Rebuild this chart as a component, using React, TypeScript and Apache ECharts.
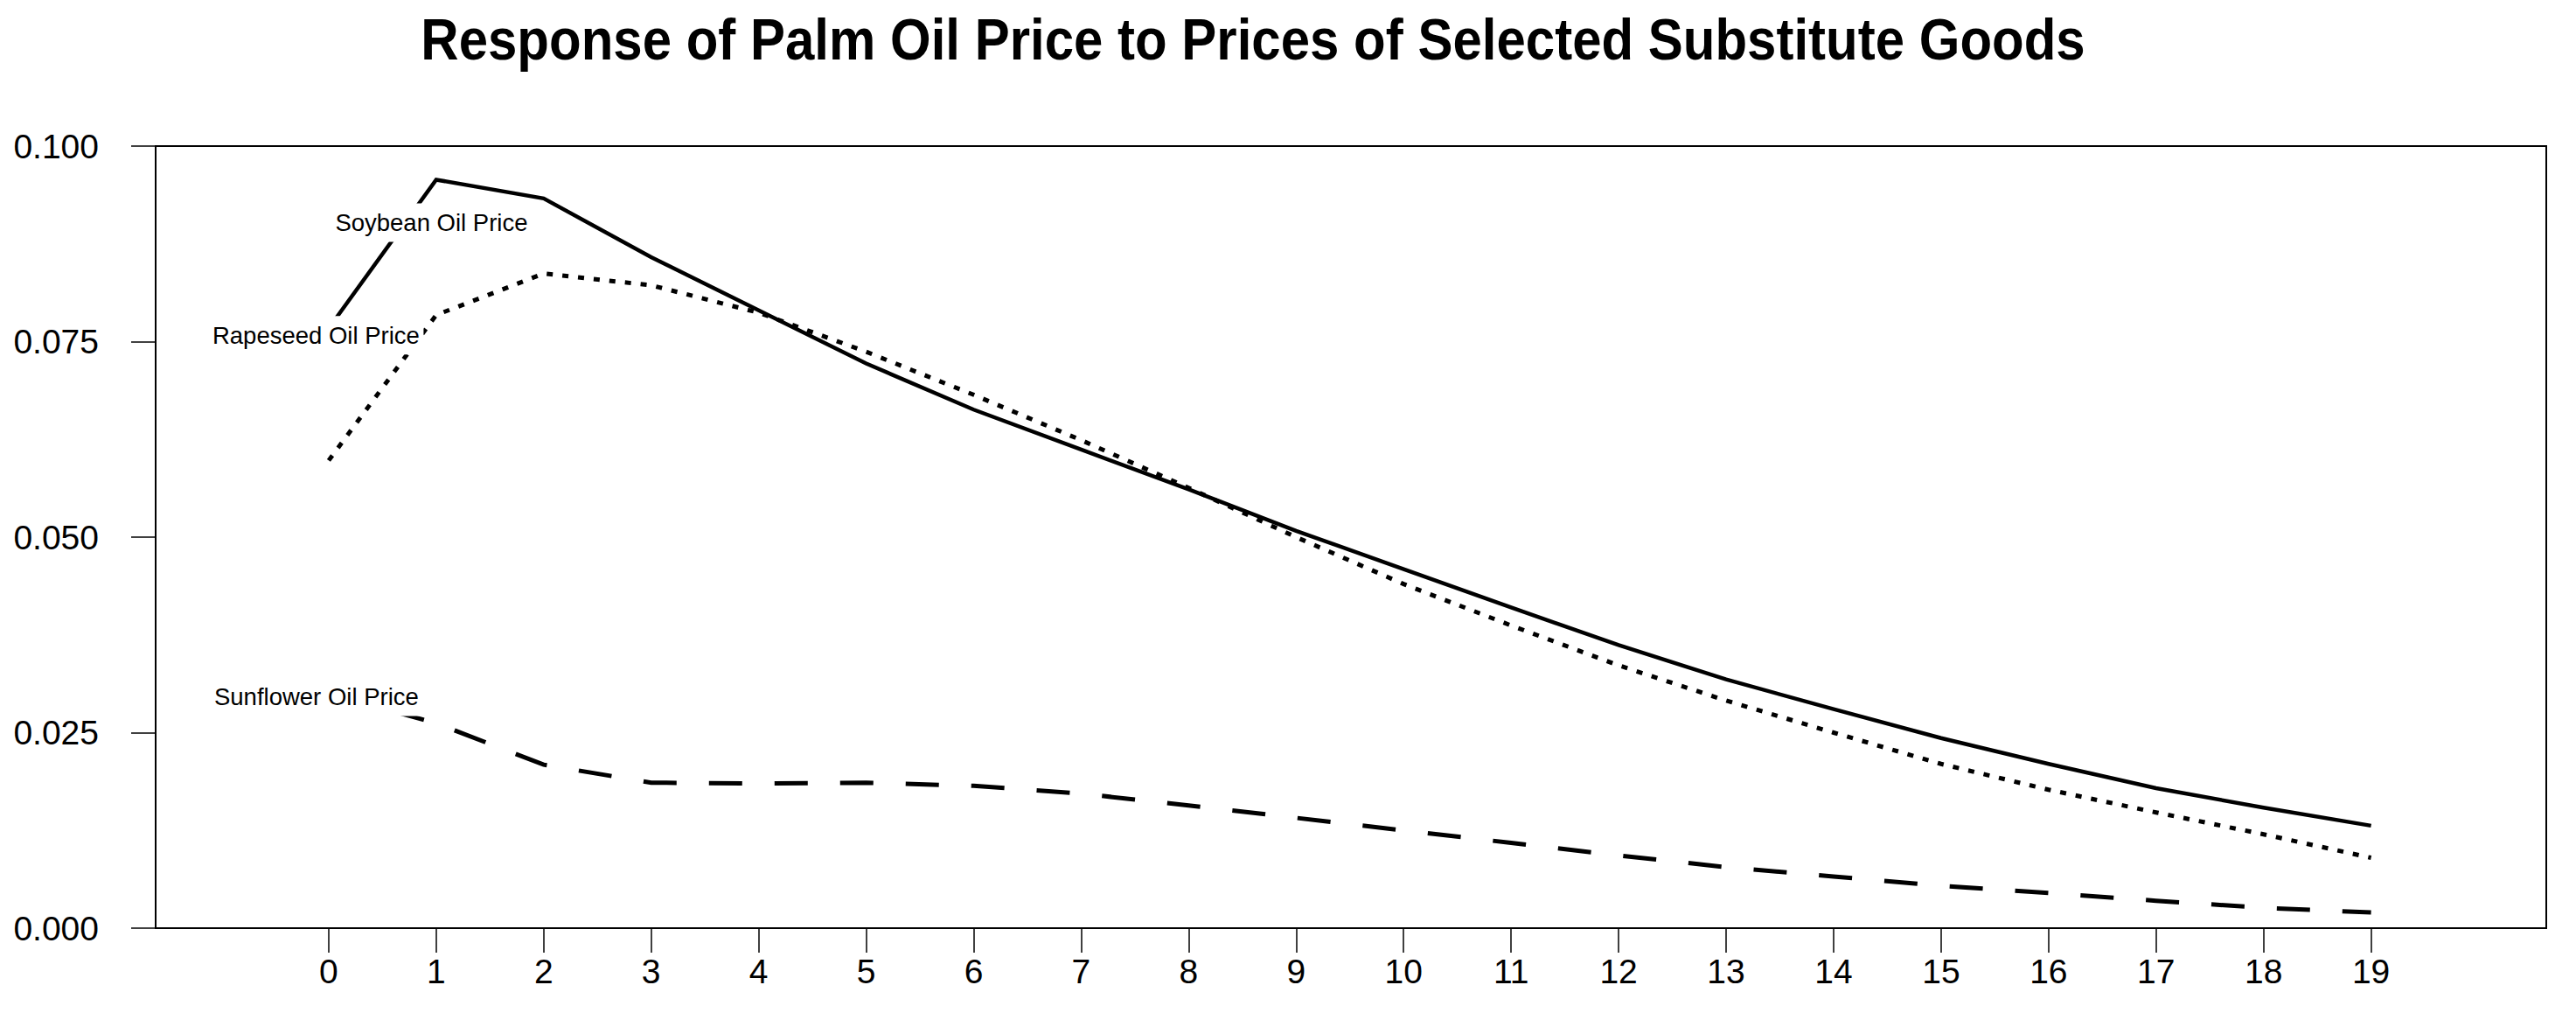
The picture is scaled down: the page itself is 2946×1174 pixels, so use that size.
import React, { useEffect, useRef } from "react";
import * as echarts from "echarts";

const titleText = "Response of Palm Oil Price to Prices of Selected Substitute Goods";
const periods = [0, 1, 2, 3, 4, 5, 6, 7, 8, 9, 10, 11, 12, 13, 14, 15, 16, 17, 18, 19];
const yTicks = [0, 0.025, 0.05, 0.075, 0.1];

const soybean = [0.0767, 0.0957, 0.0933, 0.0858, 0.0790, 0.0722, 0.0663, 0.0612, 0.0561, 0.0508, 0.0459, 0.0410, 0.0362, 0.0318, 0.0280, 0.0243, 0.0210, 0.0179, 0.0154, 0.0131];
const rapeseed = [0.0598, 0.0784, 0.0837, 0.0822, 0.0787, 0.0737, 0.0682, 0.0624, 0.0563, 0.0500, 0.0440, 0.0387, 0.0336, 0.0291, 0.0250, 0.0210, 0.0177, 0.0148, 0.0120, 0.0090];
const sunflower = [0.0300, 0.0262, 0.0209, 0.0186, 0.0185, 0.0186, 0.0182, 0.0172, 0.0157, 0.0141, 0.0125, 0.0109, 0.0093, 0.0078, 0.0066, 0.0054, 0.0045, 0.0035, 0.0026, 0.0020];

const seriesNames = ["Soybean Oil Price", "Rapeseed Oil Price", "Sunflower Oil Price"];
// label anchor points in data coordinates [period, value]
const labelAnchors: [number, number][] = [
  [0.956, 0.0902],
  [-0.118, 0.0758],
  [-0.114, 0.0296],
];
const labelBoxWidths = [230, 246, 243];

const FONT = "'Liberation Sans', Arial, sans-serif";

export default function App() {
  const ref = useRef<HTMLDivElement>(null);
  useEffect(() => {
    if (!ref.current) return;
    const chart = echarts.init(ref.current, null, { renderer: "svg" });
    const seriesData = [soybean, rapeseed, sunflower];
    const dashes: any[] = ["solid", [7, 11], [38, 37]];
    const widths = [4.5, 5, 5];
    const series = seriesData.map((arr, si) => ({
      type: "line",
      name: seriesNames[si],
      data: arr.map((v, i) => [periods[i], v]),
      symbol: "none",
      smooth: false,
      silent: true,
      z: 2,
      lineStyle: { color: "#000", width: widths[si], type: dashes[si], cap: "butt", join: "miter" },
      markPoint: {
        silent: true,
        z: 5,
        data: [
          {
            coord: labelAnchors[si],
            symbol: "rect",
            symbolSize: [labelBoxWidths[si], 44],
            itemStyle: { color: "#fff", borderWidth: 0 },
            label: {
              show: true,
              position: "inside",
              formatter: seriesNames[si],
              color: "#000",
              fontFamily: FONT,
              fontSize: 27.5,
            },
          },
        ],
      },
    }));
    chart.setOption({
      animation: false,
      backgroundColor: "#fff",
      graphic: [
        {
          type: "text",
          x: 1433,
          y: 44,
          scaleY: 1.12,
          style: {
            text: titleText,
            fill: "#000",
            fontFamily: FONT,
            fontWeight: "bold",
            fontSize: 60,
            textAlign: "center",
            textVerticalAlign: "middle",
            align: "center",
            verticalAlign: "middle",
          },
        },
      ],
      grid: {
        left: 178,
        right: 34,
        top: 167,
        bottom: 113,
        show: true,
        borderColor: "#000",
        borderWidth: 2,
        backgroundColor: "transparent",
      },
      xAxis: {
        type: "value",
        min: -1.61,
        max: 20.63,
        splitLine: { show: false },
        axisLine: { show: true, onZero: false, lineStyle: { color: "#000", width: 2 } },
        axisTick: { show: true, length: 28, customValues: periods, lineStyle: { color: "#000", width: 1.5 } },
        axisLabel: {
          customValues: periods,
          color: "#000",
          fontFamily: FONT,
          fontSize: 39,
          margin: 30,
          formatter: (v: number) => String(v),
        },
      },
      yAxis: {
        type: "value",
        min: 0,
        max: 0.1,
        interval: 0.025,
        splitLine: { show: false },
        axisLine: { show: true, onZero: false, lineStyle: { color: "#000", width: 2 } },
        axisTick: { show: true, length: 28, lineStyle: { color: "#000", width: 1.5 } },
        axisLabel: {
          color: "#000",
          fontFamily: FONT,
          fontSize: 39,
          margin: 65,
          formatter: (v: number) => (yTicks.some((t) => Math.abs(t - v) < 1e-9) ? v.toFixed(3) : ""),
        },
      },
      series,
    });
    return () => chart.dispose();
  }, []);
  return (
    <div
      ref={ref}
      style={{ position: "absolute", left: 0, top: 0, width: 2946, height: 1174, background: "#fff" }}
    />
  );
}
